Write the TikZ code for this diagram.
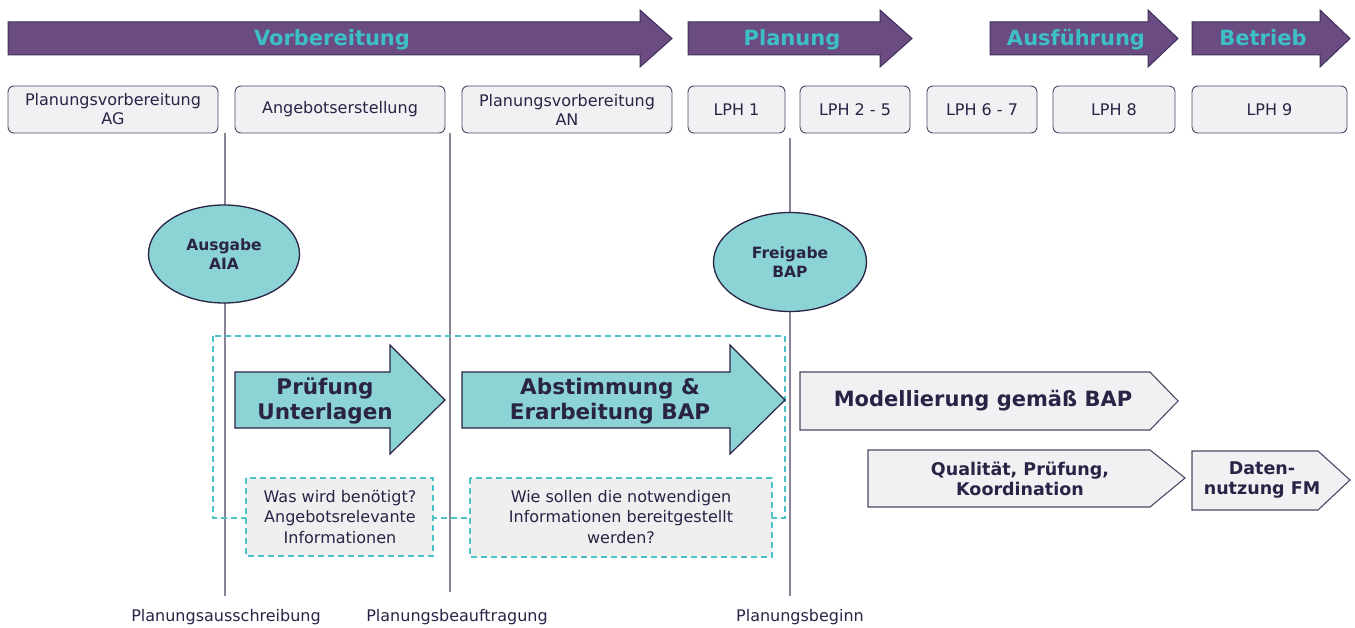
\documentclass[tikz,border=0pt]{standalone}
\usepackage{fontspec}
\setmainfont{DejaVu Sans}
\usetikzlibrary{shapes.geometric}
\definecolor{phasefill}{HTML}{6A4C82}
\definecolor{phaseline}{HTML}{3F2F5C}
\definecolor{phasetext}{HTML}{3DC0C4}
\definecolor{ink}{HTML}{2A2346}
\definecolor{boxfill}{HTML}{F1F1F3}
\definecolor{boxline}{HTML}{4E4666}
\definecolor{tealfill}{HTML}{8BD3D5}
\definecolor{dashteal}{HTML}{4DC3C6}
\definecolor{gateline}{HTML}{8A8299}
\definecolor{notefill}{HTML}{EFEFEF}
\begin{document}
\begin{tikzpicture}[x=1pt,y=-1pt,
  phase/.style={fill=phasefill, draw=phaseline, line width=1pt, line join=miter},
  phaselabel/.style={text=phasetext, anchor=base, font=\bfseries\fontsize{21}{24}\selectfont},
  stagebox/.style={draw=boxline, fill=boxfill, rounded corners=6pt, line width=0.9pt,
    minimum height=47pt, align=center, text=ink, inner sep=0pt,
    font=\fontsize{16}{19}\selectfont},
  milestone/.style={ellipse, draw=ink, fill=tealfill, line width=1.3pt, align=center,
    text=ink, inner sep=0pt, font=\bfseries\fontsize{15.5}{19}\selectfont},
  bigstep/.style={fill=tealfill, draw=ink, line width=1.2pt, line join=miter},
  bigsteplabel/.style={text=ink, align=center, font=\bfseries\fontsize{21.5}{25}\selectfont},
  graystep/.style={fill=boxfill, draw=boxline, line width=1.1pt, line join=miter},
  graysteplabel/.style={text=ink, align=center, font=\bfseries\fontsize{17.5}{20}\selectfont},
  region/.style={draw=dashteal, line width=1.3pt, dash pattern=on 6pt off 4pt},
  note/.style={region, fill=notefill},
  notelabel/.style={text=ink, align=center, font=\fontsize{16}{20.5}\selectfont},
  gate/.style={draw=gateline, line width=1.2pt},
  gatelabel/.style={text=ink, font=\fontsize{16}{18}\selectfont, inner sep=0pt}
]
\useasboundingbox (0,0) rectangle (1355,628);

% phase arrows
\draw[phase] (8,22) -- (640,22) -- (640,10) -- (672,38.5) -- (640,67) -- (640,55) -- (8,55) -- cycle;
\node[phaselabel] (vor) at (332,46) {Vorbereitung};
\draw[phase] (688,22) -- (880,22) -- (880,10) -- (912,38.5) -- (880,67) -- (880,55) -- (688,55) -- cycle;
\node[phaselabel] (pla) at (792,46) {Planung};
\draw[phase] (990,22) -- (1148,22) -- (1148,10) -- (1178,38.5) -- (1148,67) -- (1148,55) -- (990,55) -- cycle;
\node[phaselabel] (aus) at (1076,46) {Ausführung};
\draw[phase] (1192,22) -- (1320,22) -- (1320,10) -- (1350,38.5) -- (1320,67) -- (1320,55) -- (1192,55) -- cycle;
\node[phaselabel] (bet) at (1263,46) {Betrieb};

% stage boxes
\node[stagebox, minimum width=210pt] (ag) at (113,109.5) {Planungsvorbereitung\\AG};
\node[stagebox, minimum width=210pt] (ang) at (340,109.5) {Angebotserstellung};
\node[stagebox, minimum width=210pt] (an) at (567,109.5) {Planungsvorbereitung\\AN};
\node[stagebox, minimum width=97pt] (l1) at (736.5,109.5) {LPH 1};
\node[stagebox, minimum width=110pt] (l25) at (855,109.5) {LPH 2 - 5};
\node[stagebox, minimum width=110pt] (l67) at (982,109.5) {LPH 6 - 7};
\node[stagebox, minimum width=122pt] (l8) at (1114,109.5) {LPH 8};
\node[stagebox, minimum width=155pt] (l9) at (1269.5,109.5) {LPH 9};

% milestone labels at the bottom
\node[gatelabel, anchor=north] (g1) at (226,609) {Planungsausschreibung};
\node[gatelabel, anchor=north] (g2) at (457,609) {Planungsbeauftragung};
\node[gatelabel, anchor=north] (g3) at (800,609) {Planungsbeginn};

% milestone lines
\coordinate (t1) at (225,133);
\coordinate (t2) at (450,133);
\coordinate (t3) at (790,138);
\draw[gate] (t1) -- ([yshift=13pt]t1 |- g1.north);
\draw[gate] (t2) -- ([yshift=17pt]t2 |- g2.north);
\draw[gate] (t3) -- ([yshift=13pt]t3 |- g3.north);

% milestones
\node[milestone, minimum width=151pt, minimum height=98pt] (aia) at (224,254) {Ausgabe\\AIA};
\node[milestone, minimum width=153pt, minimum height=99pt] (bap) at (790,262) {Freigabe\\BAP};

% tender / contract phase region
\draw[region] (213,336) rectangle (785,518);

% main steps
\draw[bigstep] (235,372) -- (390,372) -- (390,345) -- (445,400) -- (390,454) -- (390,428) -- (235,428) -- cycle;
\node[bigsteplabel] (pruef) at (325,401) {Prüfung\\Unterlagen};
\draw[bigstep] (462,372) -- (730,372) -- (730,345) -- (785,400) -- (730,454) -- (730,428) -- (462,428) -- cycle;
\node[bigsteplabel] (abst) at (610,401) {Abstimmung \&\\Erarbeitung BAP};

% notes
\draw[note] (246,478) rectangle (433,556);
\node[notelabel] (n1) at (340,517) {Was wird benötigt?\\Angebotsrelevante\\Informationen};
\draw[note] (470,478) rectangle (772,557);
\node[notelabel] (n2) at (621,517) {Wie sollen die notwendigen\\Informationen bereitgestellt\\werden?};

% follow-up steps
\draw[graystep] (800,372) -- (1150,372) -- (1178,401) -- (1150,430) -- (800,430) -- cycle;
\node[graysteplabel, font=\bfseries\fontsize{21}{24}\selectfont] (mod) at (983,401) {Modellierung gemäß BAP};
\draw[graystep] (868,450) -- (1150,450) -- (1185,478) -- (1150,507) -- (868,507) -- cycle;
\node[graysteplabel] (qual) at (1020,479) {Qualität, Prüfung,\\Koordination};
\draw[graystep] (1192,451) -- (1318,451) -- (1350,480) -- (1318,510) -- (1192,510) -- cycle;
\node[graysteplabel] (fm) at (1262,480) {Daten-\\nutzung FM};
\end{tikzpicture}
\end{document}
